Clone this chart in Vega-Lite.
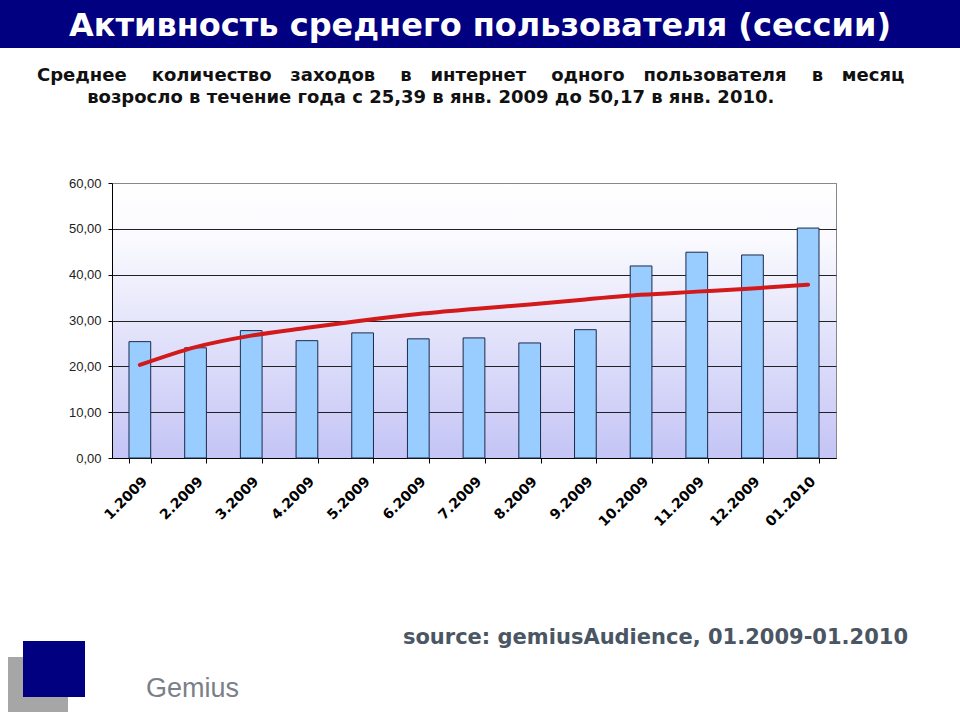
{
  "$schema": "https://vega.github.io/schema/vega-lite/v6.json",
  "padding": 0,
  "background": "white",
  "spacing": 0,
  "bounds": "flush",
  "align": "each",
  "columns": 9,
  "config": {"view": {"stroke": null}},
  "datasets": {"blank": [{"t": ""}]},
  "concat": [
    {"width": 8, "height": 48, "view": {"fill": "#000080"}, "data": {"name": "blank"}, "mark": "text", "encoding": {"text": {"field": "t"}}},
    {"width": 15, "height": 48, "view": {"fill": "#000080"}, "data": {"name": "blank"}, "mark": "text", "encoding": {"text": {"field": "t"}}},
    {"width": 45, "height": 48, "view": {"fill": "#000080"}, "data": {"name": "blank"}, "mark": "text", "encoding": {"text": {"field": "t"}}},
    {"width": 17, "height": 48, "view": {"fill": "#000080"}, "data": {"name": "blank"}, "mark": "text", "encoding": {"text": {"field": "t"}}},
    {"width": 27, "height": 48, "view": {"fill": "#000080"}, "data": {"name": "blank"}, "mark": "text", "encoding": {"text": {"field": "t"}}},
    {"width": 724, "height": 48, "view": {"fill": "#000080"}, "data": {"name": "blank"}, "mark": "text", "encoding": {"text": {"field": "t"}}},
    {"width": 44, "height": 48, "view": {"fill": "#000080"}, "data": {"name": "blank"}, "mark": "text", "encoding": {"text": {"field": "t"}}},
    {"width": 56, "height": 48, "view": {"fill": "#000080"}, "data": {"name": "blank"}, "mark": "text", "encoding": {"text": {"field": "t"}}},
    {"width": 24, "height": 48, "view": {"fill": "#000080"}, "data": {"values": [{"t": "Активность среднего пользователя (сессии)"}]}, "mark": {"type": "text", "align": "center", "dx": -468, "dy": 2, "font": "DejaVu Sans", "fontSize": 32, "fontWeight": "bold", "color": "#ffffff"}, "encoding": {"text": {"field": "t"}}},

    {"width": 8, "height": 135, "data": {"name": "blank"}, "mark": "text", "encoding": {"text": {"field": "t"}}},
    {"width": 15, "height": 135, "data": {"name": "blank"}, "mark": "text", "encoding": {"text": {"field": "t"}}},
    {"width": 45, "height": 135, "data": {"name": "blank"}, "mark": "text", "encoding": {"text": {"field": "t"}}},
    {"width": 17, "height": 135, "data": {"name": "blank"}, "mark": "text", "encoding": {"text": {"field": "t"}}},
    {"width": 27, "height": 135, "data": {"name": "blank"}, "mark": "text", "encoding": {"text": {"field": "t"}}},
    {"width": 724, "height": 135, "data": {"name": "blank"}, "mark": "text", "encoding": {"text": {"field": "t"}}},
    {"width": 44, "height": 135, "data": {"name": "blank"}, "mark": "text", "encoding": {"text": {"field": "t"}}},
    {"width": 56, "height": 135, "data": {"name": "blank"}, "mark": "text", "encoding": {"text": {"field": "t"}}},
    {"width": 24, "height": 135, "data": {"name": "blank"}, "mark": "text", "encoding": {"text": {"field": "t"}}},

    {"width": 8, "height": 275, "data": {"name": "blank"}, "mark": "text", "encoding": {"text": {"field": "t"}}},
    {"width": 15, "height": 275, "data": {"name": "blank"}, "mark": "text", "encoding": {"text": {"field": "t"}}},
    {"width": 45, "height": 275, "data": {"name": "blank"}, "mark": "text", "encoding": {"text": {"field": "t"}}},
    {"width": 17, "height": 275, "data": {"name": "blank"}, "mark": "text", "encoding": {"text": {"field": "t"}}},
    {"width": 27, "height": 275, "data": {"name": "blank"}, "mark": "text", "encoding": {"text": {"field": "t"}}},
    {
      "width": 724, "height": 275,
      "view": {
        "stroke": "#888888",
        "fill": {"gradient": "linear", "x1": 0, "y1": 0, "x2": 0, "y2": 1,
          "stops": [{"offset": 0, "color": "#ffffff"}, {"offset": 0.2, "color": "#fafaff"}, {"offset": 1, "color": "#c4c4f6"}]}
      },
      "title": {
        "text": [
          "Среднее\u00a0\u00a0\u00a0\u00a0количество\u00a0\u00a0\u00a0заходов\u00a0\u00a0\u00a0\u00a0в\u00a0\u00a0\u00a0интернет\u00a0\u00a0\u00a0\u00a0одного\u00a0\u00a0\u00a0пользователя\u00a0\u00a0\u00a0\u00a0в\u00a0\u00a0\u00a0месяц",
          "\u200b\u00a0\u00a0\u00a0\u00a0\u00a0\u00a0\u00a0\u00a0возросло в течение года с 25,39 в янв. 2009 до 50,17 в янв. 2010."
        ],
        "anchor": "start",
        "frame": "group",
        "dx": -75,
        "offset": 70,
        "font": "DejaVu Sans",
        "fontSize": 18,
        "fontWeight": "bold",
        "color": "#111111",
        "lineHeight": 22
      },
      "data": {"values": [
        {"month": "1.2009", "sessions": 25.39, "trend": 20.3},
        {"month": "2.2009", "sessions": 24.05, "trend": 24.2},
        {"month": "3.2009", "sessions": 27.8, "trend": 26.7},
        {"month": "4.2009", "sessions": 25.6, "trend": 28.4},
        {"month": "5.2009", "sessions": 27.3, "trend": 30.0},
        {"month": "6.2009", "sessions": 26.0, "trend": 31.4},
        {"month": "7.2009", "sessions": 26.2, "trend": 32.5},
        {"month": "8.2009", "sessions": 25.1, "trend": 33.5},
        {"month": "9.2009", "sessions": 28.0, "trend": 34.6},
        {"month": "10.2009", "sessions": 41.9, "trend": 35.6},
        {"month": "11.2009", "sessions": 44.9, "trend": 36.3},
        {"month": "12.2009", "sessions": 44.3, "trend": 37.0},
        {"month": "01.2010", "sessions": 50.17, "trend": 37.8}
      ]},
      "encoding": {
        "x": {
          "field": "month", "type": "nominal", "sort": null,
          "scale": {"paddingInner": 0.61, "paddingOuter": 0.305},
          "axis": {"title": null, "labelAngle": -45, "labelFont": "DejaVu Sans", "labelFontWeight": "bold", "labelFontSize": 14, "labelColor": "#000000", "tickBand": "extent", "tickSize": 5, "tickColor": "#000000", "domainColor": "#000000", "labelPadding": 11, "grid": false}
        }
      },
      "layer": [
        {
          "mark": {"type": "bar", "fill": "#99ccff", "stroke": "#1c2b4a", "strokeWidth": 1},
          "encoding": {
            "y": {
              "field": "sessions", "type": "quantitative",
              "scale": {"domain": [0, 60], "nice": false},
              "axis": {"title": null, "values": [0, 10, 20, 30, 40, 50, 60], "labelExpr": "replace(format(datum.value, '.2f'), '.', ',')", "labelFont": "Liberation Sans", "labelFontSize": 13, "labelColor": "#222222", "tickSize": 4, "tickColor": "#000000", "domainColor": "#000000", "labelPadding": 7, "grid": true, "gridColor": {"condition": {"test": "datum.value === 60", "value": "#888888"}, "value": "#222222"}, "gridWidth": 1}
            }
          }
        },
        {
          "mark": {"type": "line", "color": "#d21a1a", "strokeWidth": 4, "interpolate": "monotone", "strokeCap": "round"},
          "encoding": {
            "y": {
              "field": "trend", "type": "quantitative",
              "scale": {"domain": [0, 60], "nice": false},
              "axis": {"title": null, "values": [0, 10, 20, 30, 40, 50, 60], "labelExpr": "replace(format(datum.value, '.2f'), '.', ',')", "labelFont": "Liberation Sans", "labelFontSize": 13, "labelColor": "#222222", "tickSize": 4, "tickColor": "#000000", "domainColor": "#000000", "labelPadding": 7, "grid": true, "gridColor": {"condition": {"test": "datum.value === 60", "value": "#888888"}, "value": "#222222"}, "gridWidth": 1}
            }
          }
        }
      ]
    },
    {"width": 44, "height": 275, "data": {"name": "blank"}, "mark": "text", "encoding": {"text": {"field": "t"}}},
    {"width": 56, "height": 275, "data": {"name": "blank"}, "mark": "text", "encoding": {"text": {"field": "t"}}},
    {"width": 24, "height": 275, "data": {"name": "blank"}, "mark": "text", "encoding": {"text": {"field": "t"}}},

    {"width": 8, "height": 177, "data": {"name": "blank"}, "mark": "text", "encoding": {"text": {"field": "t"}}},
    {"width": 15, "height": 177, "data": {"name": "blank"}, "mark": "text", "encoding": {"text": {"field": "t"}}},
    {"width": 45, "height": 177, "data": {"name": "blank"}, "mark": "text", "encoding": {"text": {"field": "t"}}},
    {"width": 17, "height": 177, "data": {"name": "blank"}, "mark": "text", "encoding": {"text": {"field": "t"}}},
    {"width": 27, "height": 177, "data": {"name": "blank"}, "mark": "text", "encoding": {"text": {"field": "t"}}},
    {"width": 724, "height": 177, "data": {"name": "blank"}, "mark": "text", "encoding": {"text": {"field": "t"}}},
    {"width": 44, "height": 177, "data": {"name": "blank"}, "mark": "text", "encoding": {"text": {"field": "t"}}},
    {"width": 56, "height": 177, "data": {"name": "blank"}, "mark": "text", "encoding": {"text": {"field": "t"}}},
    {"width": 24, "height": 177, "data": {"name": "blank"}, "mark": "text", "encoding": {"text": {"field": "t"}}},

    {"width": 8, "height": 6, "data": {"name": "blank"}, "mark": "text", "encoding": {"text": {"field": "t"}}},
    {"width": 15, "height": 6, "data": {"name": "blank"}, "mark": "text", "encoding": {"text": {"field": "t"}}},
    {"width": 45, "height": 6, "data": {"name": "blank"}, "mark": "text", "encoding": {"text": {"field": "t"}}},
    {"width": 17, "height": 6, "data": {"name": "blank"}, "mark": "text", "encoding": {"text": {"field": "t"}}},
    {"width": 27, "height": 6, "data": {"name": "blank"}, "mark": "text", "encoding": {"text": {"field": "t"}}},
    {"width": 724, "height": 6, "data": {"name": "blank"}, "mark": "text", "encoding": {"text": {"field": "t"}}},
    {"width": 44, "height": 6, "data": {"name": "blank"}, "mark": "text", "encoding": {"text": {"field": "t"}}},
    {"width": 56, "height": 6, "data": {"values": [{"t": "source: gemiusAudience, 01.2009-01.2010"}]}, "mark": {"type": "text", "align": "right", "font": "DejaVu Sans", "fontSize": 21, "fontWeight": "bold", "color": "#4a5663"}, "encoding": {"text": {"field": "t"}}},
    {"width": 24, "height": 6, "data": {"name": "blank"}, "mark": "text", "encoding": {"text": {"field": "t"}}},

    {"width": 8, "height": 16, "data": {"name": "blank"}, "mark": "text", "encoding": {"text": {"field": "t"}}},
    {"width": 15, "height": 16, "data": {"name": "blank"}, "mark": "text", "encoding": {"text": {"field": "t"}}},
    {"width": 45, "height": 16, "view": {"fill": "#000080"}, "data": {"name": "blank"}, "mark": "text", "encoding": {"text": {"field": "t"}}},
    {"width": 17, "height": 16, "view": {"fill": "#000080"}, "data": {"name": "blank"}, "mark": "text", "encoding": {"text": {"field": "t"}}},
    {"width": 27, "height": 16, "data": {"name": "blank"}, "mark": "text", "encoding": {"text": {"field": "t"}}},
    {"width": 724, "height": 16, "data": {"name": "blank"}, "mark": "text", "encoding": {"text": {"field": "t"}}},
    {"width": 44, "height": 16, "data": {"name": "blank"}, "mark": "text", "encoding": {"text": {"field": "t"}}},
    {"width": 56, "height": 16, "data": {"name": "blank"}, "mark": "text", "encoding": {"text": {"field": "t"}}},
    {"width": 24, "height": 16, "data": {"name": "blank"}, "mark": "text", "encoding": {"text": {"field": "t"}}},

    {"width": 8, "height": 20, "data": {"name": "blank"}, "mark": "text", "encoding": {"text": {"field": "t"}}},
    {"width": 15, "height": 20, "view": {"fill": "#a6a6a6"}, "data": {"name": "blank"}, "mark": "text", "encoding": {"text": {"field": "t"}}},
    {"width": 45, "height": 20, "view": {"fill": "#000080"}, "data": {"name": "blank"}, "mark": "text", "encoding": {"text": {"field": "t"}}},
    {"width": 17, "height": 20, "view": {"fill": "#000080"}, "data": {"name": "blank"}, "mark": "text", "encoding": {"text": {"field": "t"}}},
    {"width": 27, "height": 20, "data": {"name": "blank"}, "mark": "text", "encoding": {"text": {"field": "t"}}},
    {"width": 724, "height": 20, "data": {"name": "blank"}, "mark": "text", "encoding": {"text": {"field": "t"}}},
    {"width": 44, "height": 20, "data": {"name": "blank"}, "mark": "text", "encoding": {"text": {"field": "t"}}},
    {"width": 56, "height": 20, "data": {"name": "blank"}, "mark": "text", "encoding": {"text": {"field": "t"}}},
    {"width": 24, "height": 20, "data": {"name": "blank"}, "mark": "text", "encoding": {"text": {"field": "t"}}},

    {"width": 8, "height": 20, "data": {"name": "blank"}, "mark": "text", "encoding": {"text": {"field": "t"}}},
    {"width": 15, "height": 20, "view": {"fill": "#a6a6a6"}, "data": {"name": "blank"}, "mark": "text", "encoding": {"text": {"field": "t"}}},
    {"width": 45, "height": 20, "view": {"fill": "#000080"}, "data": {"name": "blank"}, "mark": "text", "encoding": {"text": {"field": "t"}}},
    {"width": 17, "height": 20, "view": {"fill": "#000080"}, "data": {"name": "blank"}, "mark": "text", "encoding": {"text": {"field": "t"}}},
    {"width": 27, "height": 20, "data": {"values": [{"t": "Gemius"}]}, "mark": {"type": "text", "align": "left", "dx": 47.5, "dy": 2, "font": "Liberation Sans", "fontSize": 27, "color": "#7a7f88"}, "encoding": {"text": {"field": "t"}}},
    {"width": 724, "height": 20, "data": {"name": "blank"}, "mark": "text", "encoding": {"text": {"field": "t"}}},
    {"width": 44, "height": 20, "data": {"name": "blank"}, "mark": "text", "encoding": {"text": {"field": "t"}}},
    {"width": 56, "height": 20, "data": {"name": "blank"}, "mark": "text", "encoding": {"text": {"field": "t"}}},
    {"width": 24, "height": 20, "data": {"name": "blank"}, "mark": "text", "encoding": {"text": {"field": "t"}}},

    {"width": 8, "height": 15, "data": {"name": "blank"}, "mark": "text", "encoding": {"text": {"field": "t"}}},
    {"width": 15, "height": 15, "view": {"fill": "#a6a6a6"}, "data": {"name": "blank"}, "mark": "text", "encoding": {"text": {"field": "t"}}},
    {"width": 45, "height": 15, "view": {"fill": "#a6a6a6"}, "data": {"name": "blank"}, "mark": "text", "encoding": {"text": {"field": "t"}}},
    {"width": 17, "height": 15, "data": {"name": "blank"}, "mark": "text", "encoding": {"text": {"field": "t"}}},
    {"width": 27, "height": 15, "data": {"name": "blank"}, "mark": "text", "encoding": {"text": {"field": "t"}}},
    {"width": 724, "height": 15, "data": {"name": "blank"}, "mark": "text", "encoding": {"text": {"field": "t"}}},
    {"width": 44, "height": 15, "data": {"name": "blank"}, "mark": "text", "encoding": {"text": {"field": "t"}}},
    {"width": 56, "height": 15, "data": {"name": "blank"}, "mark": "text", "encoding": {"text": {"field": "t"}}},
    {"width": 24, "height": 15, "data": {"name": "blank"}, "mark": "text", "encoding": {"text": {"field": "t"}}},

    {"width": 8, "height": 8, "data": {"name": "blank"}, "mark": "text", "encoding": {"text": {"field": "t"}}},
    {"width": 15, "height": 8, "data": {"name": "blank"}, "mark": "text", "encoding": {"text": {"field": "t"}}},
    {"width": 45, "height": 8, "data": {"name": "blank"}, "mark": "text", "encoding": {"text": {"field": "t"}}},
    {"width": 17, "height": 8, "data": {"name": "blank"}, "mark": "text", "encoding": {"text": {"field": "t"}}},
    {"width": 27, "height": 8, "data": {"name": "blank"}, "mark": "text", "encoding": {"text": {"field": "t"}}},
    {"width": 724, "height": 8, "data": {"name": "blank"}, "mark": "text", "encoding": {"text": {"field": "t"}}},
    {"width": 44, "height": 8, "data": {"name": "blank"}, "mark": "text", "encoding": {"text": {"field": "t"}}},
    {"width": 56, "height": 8, "data": {"name": "blank"}, "mark": "text", "encoding": {"text": {"field": "t"}}},
    {"width": 24, "height": 8, "data": {"name": "blank"}, "mark": "text", "encoding": {"text": {"field": "t"}}}
  ]
}
